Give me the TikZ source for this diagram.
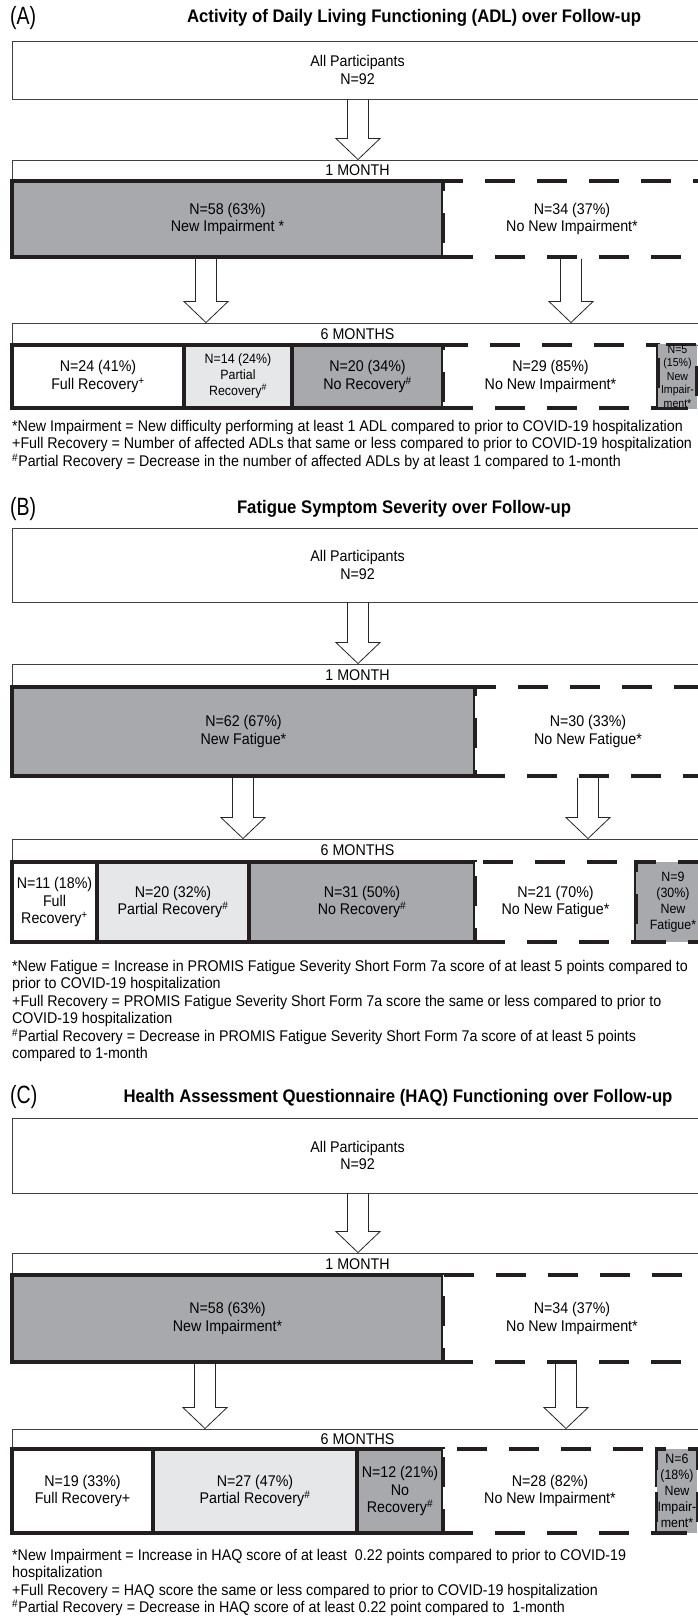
\documentclass[tikz,border=0pt]{standalone}
\usepackage{fontspec}
\setmainfont{Liberation Sans}[FakeStretch=0.92]
\newfontfamily\tagfont{Liberation Sans}[FakeStretch=0.78]
\usetikzlibrary{calc}

\definecolor{midgray}{HTML}{A7A9AC}
\definecolor{lightgray}{HTML}{E6E7E8}
\definecolor{edge}{HTML}{231F20}

% box from x1 to x2, y1 to y2 (pixels, y going down)
\newcommand\cell[7][]{%
  \node[#1, minimum width={#4-#3}, minimum height={#6-#5}] (#2) at ({(#3+#4)/2},{(#5+#6)/2}) {#7};}
% hollow block arrow between two nodes at a given x
\newcommand\blockarr[3]{%
  \draw[blockarrow] let \p1=(#1.south), \p2=(#2.north) in
    (#3pt-10.5pt,\y1) -- (#3pt-10.5pt,\y2+21pt) -- (#3pt-22pt,\y2+21pt) -- (#3pt,\y2)
    -- (#3pt+22pt,\y2+21pt) -- (#3pt+10.5pt,\y2+21pt) -- (#3pt+10.5pt,\y1);}

\begin{document}
\begin{tikzpicture}[
  x=1pt, y=-1pt,
  every node/.style={font=\fontsize{15.5}{17.5}\selectfont},
  outerbox/.style={draw=black!75, line width=0.9pt, fill=white, align=center, inner sep=1pt},
  cellbox/.style={draw=edge, line width=3.5pt, align=center, inner sep=1pt},
  whitecell/.style={cellbox, fill=white},
  lightcell/.style={cellbox, fill=lightgray},
  graycell/.style={cellbox, fill=midgray},
  dashcell/.style={cellbox, fill=white, dash pattern=on 30pt off 22pt},
  dashgray/.style={dashcell, fill=midgray},
  smalltext/.style={font=\fontsize{13.5}{16}\selectfont},
  tinytext/.style={font=\fontsize{11.5}{13.5}\selectfont},
  paneltag/.style={anchor=west, inner sep=0pt, font=\tagfont\fontsize{25}{25}\selectfont},
  heading/.style={inner sep=0pt, font=\fontsize{18.2}{20}\selectfont\bfseries},
  note/.style={anchor=north west, align=left, inner sep=0pt},
  blockarrow/.style={draw=black!85, line width=0.8pt},
]
\useasboundingbox (0,0) rectangle (697,1617);

% (A) ADL
\node[paneltag] (tagA) at (10,18) {(A)};
\node[heading] (headA) at (414,18) {Activity of Daily Living Functioning (ADL) over Follow-up};
\cell[outerbox]{a0}{12}{703}{41}{99}{All Participants\\N=92}
\cell[outerbox]{a1bar}{12}{703}{160}{181}{1 MONTH}
\cell[graycell]{a1new}{12}{443}{181}{257}{N=58 (63\%)\\New Impairment *}
\cell[dashcell]{a1no}{443}{701}{181}{257}{N=34 (37\%)\\No New Impairment*}
\cell[outerbox]{a2bar}{12}{703}{323}{345}{6 MONTHS}
\cell[whitecell]{a2full}{12}{184}{345}{408}{N=24 (41\%)\\Full Recovery\textsuperscript{+}}
\cell[lightcell, smalltext]{a2part}{184}{292}{345}{408}{N=14 (24\%)\\Partial\\Recovery\textsuperscript{\#}}
\cell[graycell]{a2none}{292}{443}{345}{408}{N=20 (34\%)\\No Recovery\textsuperscript{\#}}
\cell[dashcell]{a2no}{443}{658}{345}{408}{N=29 (85\%)\\No New Impairment*}
\cell[dashgray, tinytext]{a2new}{658}{697}{345}{408}{N=5\\(15\%)\\New\\Impair-\\ment*}
\blockarr{a0}{a1bar}{358}
\blockarr{a1new}{a2bar}{206}
\blockarr{a1no}{a2bar}{571}
\node[note] (notesA) at (12,420) {*New Impairment = New difficulty performing at least 1 ADL compared to prior to COVID-19 hospitalization\\
+Full Recovery = Number of affected ADLs that same or less compared to prior to COVID-19 hospitalization\\
\textsuperscript{\#}Partial Recovery = Decrease in the number of affected ADLs by at least 1 compared to 1-month};

% (B) Fatigue
\node[paneltag] (tagB) at (10,509) {(B)};
\node[heading] (headB) at (404,509) {Fatigue Symptom Severity over Follow-up};
\cell[outerbox]{b0}{12}{703}{528}{602}{All Participants\\N=92}
\cell[outerbox]{b1bar}{12}{703}{664}{687}{1 MONTH}
\cell[graycell]{b1new}{12}{475}{687}{776}{N=62 (67\%)\\New Fatigue*}
\cell[dashcell]{b1no}{475}{701}{687}{776}{N=30 (33\%)\\No New Fatigue*}
\cell[outerbox]{b2bar}{12}{703}{839}{862}{6 MONTHS}
\cell[whitecell]{b2full}{12}{97}{862}{942}{N=11 (18\%)\\Full\\Recovery\textsuperscript{+}}
\cell[lightcell]{b2part}{97}{249}{862}{942}{N=20 (32\%)\\Partial Recovery\textsuperscript{\#}}
\cell[graycell]{b2none}{249}{475}{862}{942}{N=31 (50\%)\\No Recovery\textsuperscript{\#}}
\cell[dashcell]{b2no}{475}{636}{862}{942}{N=21 (70\%)\\No New Fatigue*}
\cell[dashgray, smalltext]{b2new}{636}{710}{862}{942}{N=9\\(30\%)\\New\\Fatigue*}
\blockarr{b0}{b1bar}{358}
\blockarr{b1new}{b2bar}{243}
\blockarr{b1no}{b2bar}{588}
\node[note] (notesB) at (12,960) {*New Fatigue = Increase in PROMIS Fatigue Severity Short Form 7a score of at least 5 points compared to\\
prior to COVID-19 hospitalization\\
+Full Recovery = PROMIS Fatigue Severity Short Form 7a score the same or less compared to prior to\\
COVID-19 hospitalization\\
\textsuperscript{\#}Partial Recovery = Decrease in PROMIS Fatigue Severity Short Form 7a score of at least 5 points\\
compared to 1-month};

% (C) HAQ
\node[paneltag] (tagC) at (10,1097) {(C)};
\node[heading] (headC) at (398,1098) {Health Assessment Questionnaire (HAQ) Functioning over Follow-up};
\cell[outerbox]{c0}{12}{703}{1118}{1193}{All Participants\\N=92}
\cell[outerbox]{c1bar}{12}{703}{1253}{1275}{1 MONTH}
\cell[graycell]{c1new}{12}{443}{1275}{1362}{N=58 (63\%)\\New Impairment*}
\cell[dashcell]{c1no}{443}{701}{1275}{1362}{N=34 (37\%)\\No New Impairment*}
\cell[outerbox]{c2bar}{12}{703}{1429}{1449}{6 MONTHS}
\cell[whitecell]{c2full}{12}{153}{1449}{1533}{N=19 (33\%)\\Full Recovery+}
\cell[lightcell]{c2part}{153}{357}{1449}{1533}{N=27 (47\%)\\Partial Recovery\textsuperscript{\#}}
\cell[graycell]{c2none}{357}{443}{1449}{1533}{N=12 (21\%)\\No\\Recovery\textsuperscript{\#}}
\cell[dashcell]{c2no}{443}{657}{1449}{1533}{N=28 (82\%)\\No New Impairment*}
\cell[dashgray, smalltext]{c2new}{657}{697}{1449}{1533}{N=6\\(18\%)\\New\\Impair-\\ment*}
\blockarr{c0}{c1bar}{358}
\blockarr{c1new}{c2bar}{205}
\blockarr{c1no}{c2bar}{566}
\node[note] (notesC) at (12,1549) {*New Impairment = Increase in HAQ score of at least\ \ 0.22 points compared to prior to COVID-19\\
hospitalization\\
+Full Recovery = HAQ score the same or less compared to prior to COVID-19 hospitalization\\
\textsuperscript{\#}Partial Recovery = Decrease in HAQ score of at least 0.22 point compared to\ \ 1-month};
\end{tikzpicture}
\end{document}
